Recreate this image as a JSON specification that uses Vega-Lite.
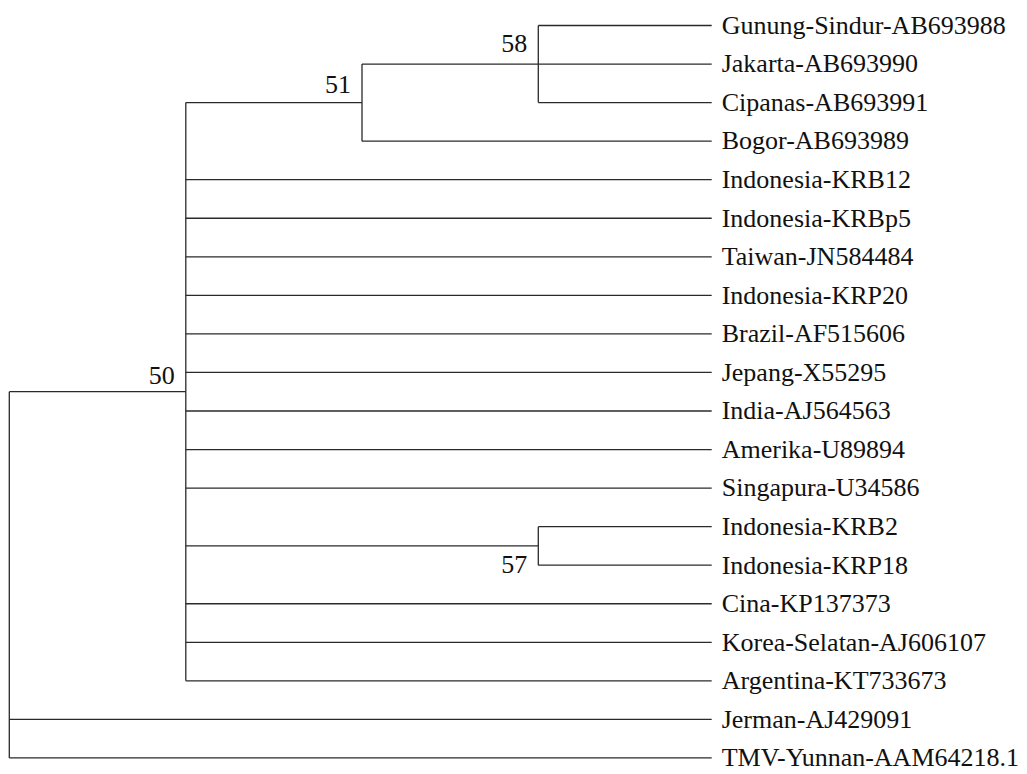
{
  "$schema": "https://vega.github.io/schema/vega-lite/v6.json",
  "width": 1027,
  "height": 774,
  "autosize": {"type": "none"},
  "padding": 0,
  "background": "white",
  "config": {"view": {"stroke": null}},
  "datasets": {
    "edges": [
      {"x": 0, "x2": 176.5, "y": 9.5, "y2": 9.5},
      {"x": 0, "x2": 702.4, "y": 18, "y2": 18},
      {"x": 0, "x2": 702.4, "y": 19, "y2": 19},
      {"x": 0, "x2": 0, "y": 9.5, "y2": 19},
      {"x": 176.5, "x2": 176.5, "y": 2, "y2": 17},
      {"x": 176.5, "x2": 352.7, "y": 2, "y2": 2},
      {"x": 352.7, "x2": 352.7, "y": 1, "y2": 3},
      {"x": 352.7, "x2": 529, "y": 1, "y2": 1},
      {"x": 352.7, "x2": 702.4, "y": 3, "y2": 3},
      {"x": 529, "x2": 529, "y": 0, "y2": 2},
      {"x": 529, "x2": 702.4, "y": 0, "y2": 0},
      {"x": 529, "x2": 702.4, "y": 1, "y2": 1},
      {"x": 529, "x2": 702.4, "y": 2, "y2": 2},
      {"x": 176.5, "x2": 702.4, "y": 4, "y2": 4},
      {"x": 176.5, "x2": 702.4, "y": 5, "y2": 5},
      {"x": 176.5, "x2": 702.4, "y": 6, "y2": 6},
      {"x": 176.5, "x2": 702.4, "y": 7, "y2": 7},
      {"x": 176.5, "x2": 702.4, "y": 8, "y2": 8},
      {"x": 176.5, "x2": 702.4, "y": 9, "y2": 9},
      {"x": 176.5, "x2": 702.4, "y": 10, "y2": 10},
      {"x": 176.5, "x2": 702.4, "y": 11, "y2": 11},
      {"x": 176.5, "x2": 702.4, "y": 12, "y2": 12},
      {"x": 176.5, "x2": 529, "y": 13.5, "y2": 13.5},
      {"x": 529, "x2": 529, "y": 13, "y2": 14},
      {"x": 529, "x2": 702.4, "y": 13, "y2": 13},
      {"x": 529, "x2": 702.4, "y": 14, "y2": 14},
      {"x": 176.5, "x2": 702.4, "y": 15, "y2": 15},
      {"x": 176.5, "x2": 702.4, "y": 16, "y2": 16},
      {"x": 176.5, "x2": 702.4, "y": 17, "y2": 17}
    ],
    "tips": [
      {"name": "Gunung-Sindur-AB693988", "x": 702.4, "row": 0},
      {"name": "Jakarta-AB693990", "x": 702.4, "row": 1},
      {"name": "Cipanas-AB693991", "x": 702.4, "row": 2},
      {"name": "Bogor-AB693989", "x": 702.4, "row": 3},
      {"name": "Indonesia-KRB12", "x": 702.4, "row": 4},
      {"name": "Indonesia-KRBp5", "x": 702.4, "row": 5},
      {"name": "Taiwan-JN584484", "x": 702.4, "row": 6},
      {"name": "Indonesia-KRP20", "x": 702.4, "row": 7},
      {"name": "Brazil-AF515606", "x": 702.4, "row": 8},
      {"name": "Jepang-X55295", "x": 702.4, "row": 9},
      {"name": "India-AJ564563", "x": 702.4, "row": 10},
      {"name": "Amerika-U89894", "x": 702.4, "row": 11},
      {"name": "Singapura-U34586", "x": 702.4, "row": 12},
      {"name": "Indonesia-KRB2", "x": 702.4, "row": 13},
      {"name": "Indonesia-KRP18", "x": 702.4, "row": 14},
      {"name": "Cina-KP137373", "x": 702.4, "row": 15},
      {"name": "Korea-Selatan-AJ606107", "x": 702.4, "row": 16},
      {"name": "Argentina-KT733673", "x": 702.4, "row": 17},
      {"name": "Jerman-AJ429091", "x": 702.4, "row": 18},
      {"name": "TMV-Yunnan-AAM64218.1", "x": 702.4, "row": 19}
    ],
    "support": [
      {"value": "50", "x": 176.5, "y": 9.3},
      {"value": "51", "x": 352.7, "y": 1.743},
      {"value": "58", "x": 529, "y": 0.68},
      {"value": "57", "x": 529, "y": 14.195}
    ]
  },
  "layer": [
    {
      "data": {"name": "edges"},
      "mark": {"type": "rule", "color": "#2a2a2a", "strokeWidth": 1.3},
      "encoding": {
        "x": {"field": "x", "type": "quantitative", "scale": {"domain": [-9.3, 1017.7]}, "axis": null},
        "x2": {"field": "x2"},
        "y": {"field": "y", "type": "quantitative", "scale": {"domain": [-0.661, 19.416], "reverse": true}, "axis": null},
        "y2": {"field": "y2"}
      }
    },
    {
      "data": {"name": "tips"},
      "mark": {"type": "text", "font": "Liberation Serif", "fontSize": 26, "align": "left", "baseline": "alphabetic", "dx": 10, "dy": 8.3, "color": "#111"},
      "encoding": {
        "x": {"field": "x", "type": "quantitative", "scale": {"domain": [-9.3, 1017.7]}, "axis": null},
        "y": {"field": "row", "type": "quantitative", "scale": {"domain": [-0.661, 19.416], "reverse": true}, "axis": null},
        "text": {"field": "name"}
      }
    },
    {
      "data": {"name": "support"},
      "mark": {"type": "text", "font": "Liberation Serif", "fontSize": 26, "align": "right", "baseline": "alphabetic", "dx": -11, "color": "#111"},
      "encoding": {
        "x": {"field": "x", "type": "quantitative", "scale": {"domain": [-9.3, 1017.7]}, "axis": null},
        "y": {"field": "y", "type": "quantitative", "scale": {"domain": [-0.661, 19.416], "reverse": true}, "axis": null},
        "text": {"field": "value"}
      }
    }
  ]
}
